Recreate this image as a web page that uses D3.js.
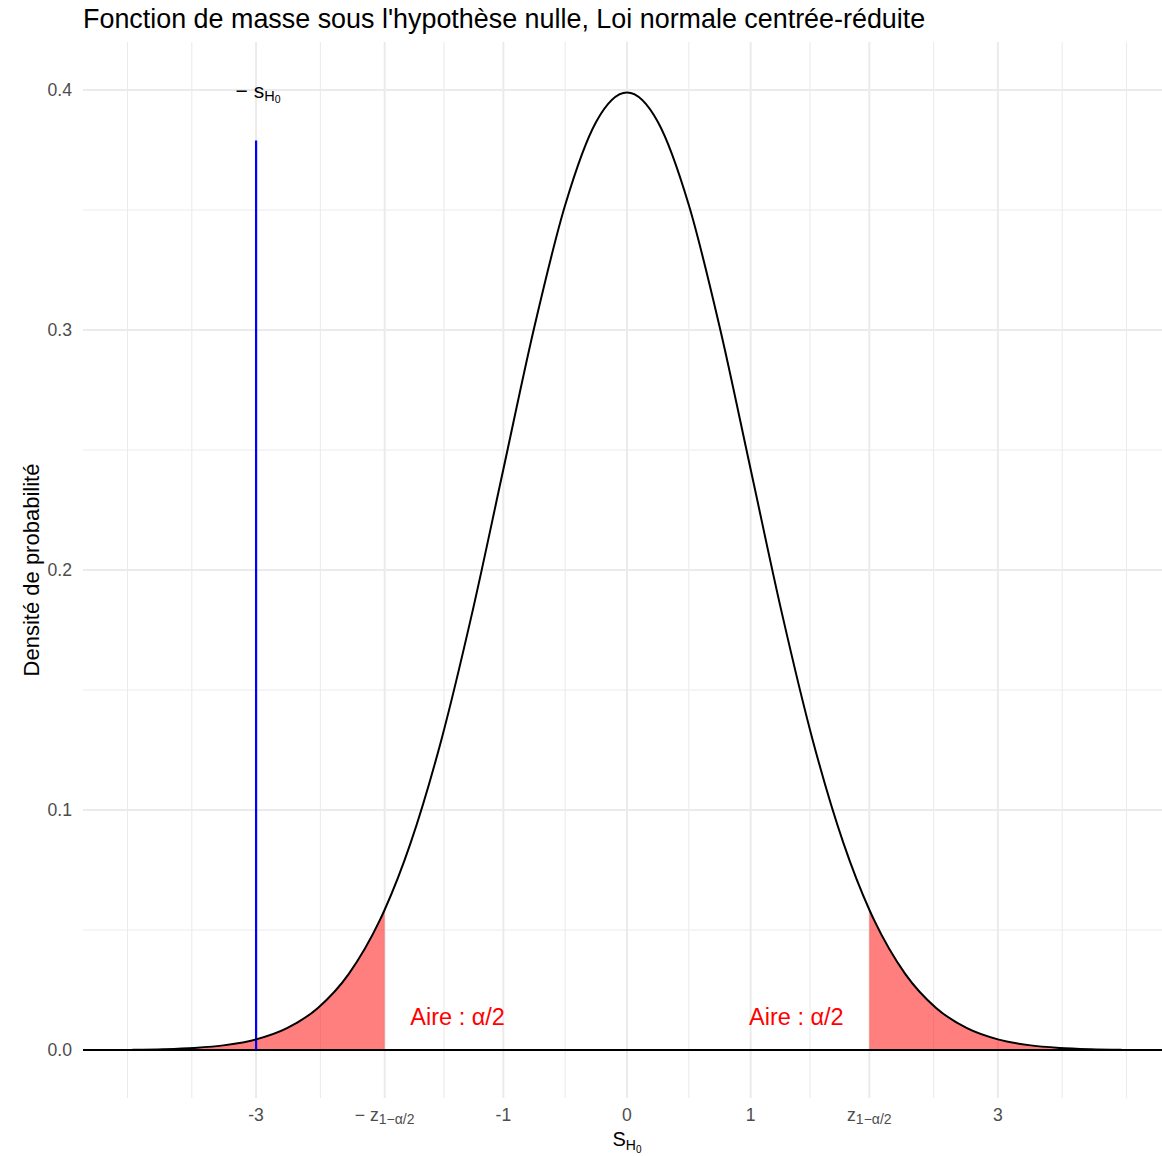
<!DOCTYPE html>
<html>
<head>
<meta charset="utf-8">
<script src="https://cdn.jsdelivr.net/npm/d3@7"></script>
<style>
  html, body { margin: 0; padding: 0; background: #fff; }
  svg { display: block; font-family: "Liberation Sans", Arial, sans-serif; }
</style>
</head>
<body>
<svg id="chart" width="1162" height="1156"></svg>
<script>
// Standard normal density N(0,1), tabulated
const xs = [-4, -3.75, -3.5, -3.25, -3, -2.75, -2.5, -2.25, -2, -1.96, -1.75, -1.5, -1.25, -1, -0.75, -0.5, -0.25,
            0, 0.25, 0.5, 0.75, 1, 1.25, 1.5, 1.75, 1.96, 2, 2.25, 2.5, 2.75, 3, 3.25, 3.5, 3.75, 4];
const densities = [0.00013, 0.00035, 0.00087, 0.00203, 0.00443, 0.00909, 0.01753, 0.03174, 0.05399, 0.05844,
                   0.08628, 0.12952, 0.18265, 0.24197, 0.30114, 0.35207, 0.38667,
                   0.39894,
                   0.38667, 0.35207, 0.30114, 0.24197, 0.18265, 0.12952, 0.08628, 0.05844, 0.05399,
                   0.03174, 0.01753, 0.00909, 0.00443, 0.00203, 0.00087, 0.00035, 0.00013];

const zCrit = 1.96;          // z_{1-alpha/2}
const observedStat = -3;     // -s_H0
const markerTop = 0.379;     // top of the vertical marker
const areaLabelX = [-1.37, 1.37];
const areaLabelY = 0.014;

const xTickValues = [-3, -1.96, -1, 0, 1, 1.96, 3];
const xTickLabels = ["-3", "−z", "-1", "0", "1", "z", "3"];
const xMinorValues = [-4.04, -3.52, -2.48, -1.48, -0.5, 0.5, 1.48, 2.48, 3.52, 4.04];
const yTickValues = [0, 0.1, 0.2, 0.3, 0.4];
const yTickLabels = ["0.0", "0.1", "0.2", "0.3", "0.4"];
const yMinorValues = [0.05, 0.15, 0.25, 0.35];

const data = xs.map((x, i) => ({ x, y: densities[i] }));

const svg = d3.select("#chart");
const panel = { left: 83, right: 1171, top: 42, bottom: 1098 };

const x = d3.scaleLinear().domain([-4.4, 4.4]).range([panel.left, panel.right]);
const y = d3.scaleLinear().domain([-0.02, 0.42]).range([panel.bottom, panel.top]);

const grid = svg.append("g");
// minor grid
grid.selectAll(".vminor").data(xMinorValues).join("line")
  .attr("x1", d => x(d)).attr("x2", d => x(d))
  .attr("y1", panel.top).attr("y2", panel.bottom)
  .attr("stroke", "#EBEBEB").attr("stroke-width", 1.1);
grid.selectAll(".hminor").data(yMinorValues).join("line")
  .attr("x1", panel.left).attr("x2", panel.right)
  .attr("y1", d => y(d)).attr("y2", d => y(d))
  .attr("stroke", "#EBEBEB").attr("stroke-width", 1.1);
// major grid
grid.selectAll(".vmajor").data(xTickValues).join("line")
  .attr("x1", d => x(d)).attr("x2", d => x(d))
  .attr("y1", panel.top).attr("y2", panel.bottom)
  .attr("stroke", "#EBEBEB").attr("stroke-width", 2);
grid.selectAll(".hmajor").data(yTickValues).join("line")
  .attr("x1", panel.left).attr("x2", panel.right)
  .attr("y1", d => y(d)).attr("y2", d => y(d))
  .attr("stroke", "#EBEBEB").attr("stroke-width", 2);

// rejection regions
const area = d3.area().x(d => x(d.x)).y0(y(0)).y1(d => y(d.y)).curve(d3.curveMonotoneX);
svg.append("path").datum(data.filter(d => d.x <= -zCrit))
  .attr("d", area).attr("fill", "#FF0000").attr("fill-opacity", 0.5);
svg.append("path").datum(data.filter(d => d.x >= zCrit))
  .attr("d", area).attr("fill", "#FF0000").attr("fill-opacity", 0.5);

// horizontal reference at 0
svg.append("line")
  .attr("x1", panel.left).attr("x2", panel.right)
  .attr("y1", y(0)).attr("y2", y(0))
  .attr("stroke", "#000").attr("stroke-width", 2);

// observed statistic
svg.append("line")
  .attr("x1", x(observedStat)).attr("x2", x(observedStat))
  .attr("y1", y(0)).attr("y2", y(markerTop))
  .attr("stroke", "#0000FF").attr("stroke-width", 2.2);

// density curve
const line = d3.line().x(d => x(d.x)).y(d => y(d.y)).curve(d3.curveMonotoneX);
svg.append("path").datum(data)
  .attr("d", line).attr("fill", "none").attr("stroke", "#000").attr("stroke-width", 2);

// area labels
svg.selectAll(".aire").data(areaLabelX).join("text")
  .attr("x", d => x(d)).attr("y", y(areaLabelY) + 8.5)
  .attr("text-anchor", "middle").attr("fill", "#FF0000")
  .style("font-size", "23.5px")
  .text("Aire : α/2");

// -s_H0 label
const sLab = svg.append("text")
  .attr("x", x(observedStat) + 2).attr("y", 97.5)
  .attr("text-anchor", "middle").style("font-size", "21px").attr("fill", "#000");
sLab.append("tspan").text("− s");
sLab.append("tspan").attr("dy", 3).style("font-size", "14.5px").text("H");
sLab.append("tspan").attr("dy", 2.5).style("font-size", "10.5px").text("0");

// x tick labels
const xt = svg.append("g");
xTickValues.forEach((v, i) => {
  const t = xt.append("text")
    .attr("x", x(v)).attr("y", 1121)
    .attr("text-anchor", "middle").attr("fill", "#4D4D4D")
    .style("font-size", "17.6px");
  const lab = xTickLabels[i];
  if (lab === "−z" || lab === "z") {
    t.append("tspan").text(lab === "−z" ? "− z" : "z");
    t.append("tspan").attr("dy", 3).style("font-size", "14px").text("1−α/2");
  } else {
    t.text(lab);
  }
});

// y tick labels
svg.selectAll(".ytick").data(yTickValues).join("text")
  .attr("x", 72).attr("y", d => y(d) + 6.3)
  .attr("text-anchor", "end").attr("fill", "#4D4D4D")
  .style("font-size", "17.6px")
  .text((d, i) => yTickLabels[i]);

// axis titles
const xTitle = svg.append("text")
  .attr("x", x(0)).attr("y", 1146)
  .attr("text-anchor", "middle").attr("fill", "#000").style("font-size", "20px");
xTitle.append("tspan").text("S");
xTitle.append("tspan").attr("dy", 4).style("font-size", "14px").text("H");
xTitle.append("tspan").attr("dy", 3).style("font-size", "10px").text("0");

svg.append("text")
  .attr("transform", "translate(39,570) rotate(-90)")
  .attr("text-anchor", "middle").attr("fill", "#000").style("font-size", "22px")
  .text("Densité de probabilité");

// title
svg.append("text")
  .attr("x", 83).attr("y", 28)
  .attr("fill", "#000").style("font-size", "26.9px")
  .text("Fonction de masse sous l'hypothèse nulle, Loi normale centrée-réduite");
</script>
</body>
</html>
